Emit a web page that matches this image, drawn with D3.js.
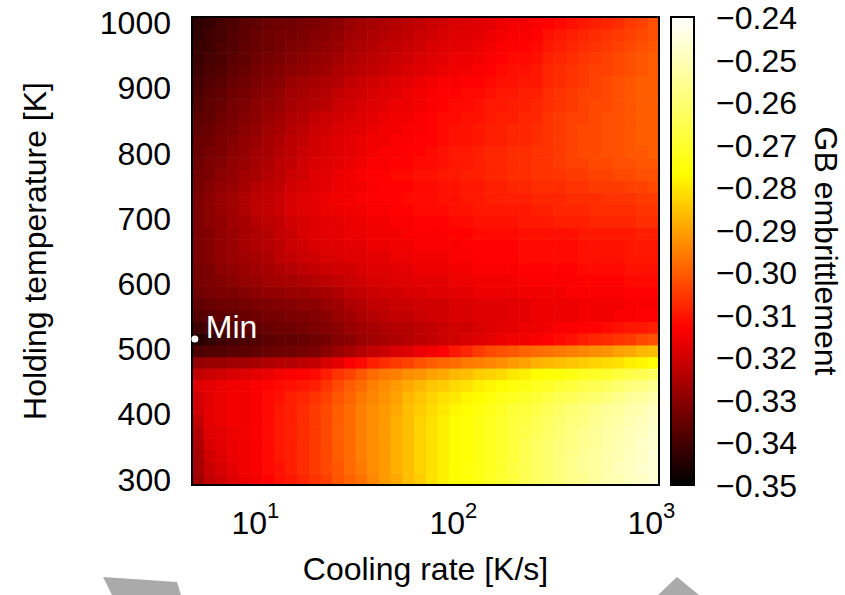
<!DOCTYPE html>
<html><head><meta charset="utf-8">
<script src="https://cdn.jsdelivr.net/npm/d3@7"></script>
<style>
html,body{margin:0;padding:0;background:#fff;}
svg{display:block;}
text{font-family:"Liberation Sans",Arial,Helvetica,sans-serif;}
</style></head><body>
<svg id="chart" width="845" height="595"></svg>
<script>
// ---------- data ----------
const coolingRates = [5.00, 5.73, 6.56, 7.52, 8.61, 9.87, 11.3, 12.9, 14.8, 17.0, 19.5, 22.3, 25.6, 29.3, 33.5, 38.4, 44.0, 50.4, 57.8, 66.2, 75.8, 86.8, 99.5, 114, 131, 150, 171, 196, 225, 258, 295, 338, 387, 444, 508, 583, 667, 765, 876, 1000];
const holdingTemps = [300, 318, 336, 354, 372, 390, 408, 426, 444, 462, 479, 497, 515, 533, 551, 569, 587, 605, 623, 641, 659, 677, 695, 713, 731, 749, 767, 785, 803, 821, 838, 856, 874, 892, 910, 928, 946, 964, 982, 1000];
// GB embrittlement in units of 1e-3, one row per holding temperature (300 K first), one column per cooling rate
const embrittlementMilli = [
[-327,-322,-320,-318,-316,-315,-313,-311,-310,-308,-306,-304,-301,-299,-297,-294,-291,-289,-286,-284,-281,-279,-277,-276,-274,-272,-270,-268,-265,-263,-261,-259,-257,-256,-254,-252,-251,-249,-248,-246],
[-326,-321,-319,-317,-315,-314,-312,-311,-309,-307,-305,-303,-301,-298,-296,-293,-291,-288,-286,-283,-281,-279,-277,-275,-274,-272,-270,-267,-265,-263,-261,-259,-257,-255,-254,-252,-250,-249,-247,-246],
[-326,-320,-318,-316,-315,-314,-312,-310,-309,-307,-305,-303,-300,-298,-295,-293,-291,-288,-286,-283,-281,-279,-277,-276,-274,-272,-270,-268,-265,-263,-261,-259,-257,-255,-254,-252,-251,-249,-248,-246],
[-325,-319,-317,-316,-315,-314,-312,-310,-309,-307,-305,-303,-300,-298,-295,-293,-291,-288,-286,-283,-281,-279,-277,-276,-274,-272,-270,-268,-265,-263,-261,-259,-258,-256,-255,-253,-251,-250,-248,-247],
[-324,-318,-317,-316,-315,-314,-312,-310,-309,-307,-305,-303,-300,-298,-295,-293,-291,-288,-286,-283,-281,-279,-277,-276,-274,-272,-270,-268,-266,-264,-262,-260,-258,-256,-255,-253,-252,-250,-249,-247],
[-322,-317,-316,-315,-315,-314,-312,-310,-309,-307,-305,-303,-300,-298,-295,-293,-291,-288,-286,-283,-281,-279,-277,-276,-274,-272,-270,-268,-267,-265,-263,-261,-259,-258,-256,-254,-253,-251,-250,-248],
[-320,-317,-316,-315,-315,-314,-312,-310,-309,-307,-305,-303,-300,-298,-295,-293,-291,-289,-286,-284,-282,-280,-278,-277,-275,-273,-271,-269,-268,-266,-264,-262,-260,-259,-257,-255,-254,-252,-251,-249],
[-320,-317,-316,-315,-315,-314,-312,-311,-309,-308,-306,-304,-301,-299,-296,-294,-292,-290,-287,-285,-283,-281,-280,-278,-277,-275,-273,-272,-270,-269,-267,-265,-264,-262,-261,-259,-257,-255,-254,-252],
[-318,-317,-316,-315,-315,-314,-313,-312,-311,-310,-309,-306,-303,-300,-298,-295,-293,-291,-289,-287,-285,-284,-282,-281,-279,-278,-277,-275,-274,-272,-271,-269,-268,-266,-265,-263,-261,-259,-258,-256],
[-322,-321,-320,-319,-318,-317,-316,-315,-314,-313,-312,-309,-306,-304,-301,-298,-296,-295,-293,-292,-290,-289,-287,-286,-284,-283,-282,-280,-279,-277,-276,-275,-274,-272,-271,-270,-268,-266,-265,-263],
[-329,-328,-328,-327,-327,-326,-325,-324,-324,-323,-322,-319,-317,-314,-312,-309,-307,-305,-304,-302,-300,-299,-298,-296,-295,-294,-293,-291,-290,-288,-287,-286,-285,-284,-283,-282,-281,-279,-278,-276],
[-339,-338,-338,-337,-337,-336,-335,-334,-334,-333,-332,-330,-328,-326,-324,-322,-321,-319,-318,-316,-315,-313,-310,-308,-305,-303,-302,-301,-299,-298,-297,-296,-295,-294,-293,-292,-290,-289,-287,-286],
[-345,-343,-341,-340,-339,-338,-337,-336,-336,-335,-334,-333,-331,-330,-328,-327,-326,-325,-324,-323,-322,-321,-320,-319,-318,-317,-316,-315,-315,-314,-313,-312,-311,-309,-308,-307,-306,-305,-303,-302],
[-341,-340,-339,-338,-337,-336,-335,-334,-334,-333,-332,-331,-330,-328,-327,-326,-325,-324,-324,-323,-322,-321,-320,-320,-319,-318,-317,-317,-316,-316,-315,-314,-314,-313,-313,-312,-311,-310,-310,-309],
[-338,-337,-336,-336,-335,-334,-333,-333,-332,-332,-331,-330,-328,-327,-325,-324,-323,-322,-322,-321,-320,-320,-319,-319,-318,-318,-318,-317,-317,-316,-316,-316,-316,-315,-315,-315,-314,-314,-313,-313],
[-336,-335,-334,-334,-333,-332,-332,-331,-331,-330,-330,-328,-327,-325,-324,-322,-322,-321,-321,-320,-320,-320,-319,-319,-318,-318,-318,-317,-317,-316,-316,-316,-316,-315,-315,-315,-315,-314,-314,-314],
[-334,-333,-332,-332,-331,-330,-329,-329,-328,-328,-327,-326,-325,-323,-322,-321,-320,-320,-319,-319,-318,-318,-317,-317,-316,-316,-316,-316,-315,-315,-315,-315,-314,-314,-314,-314,-314,-313,-313,-313],
[-333,-332,-331,-330,-329,-328,-327,-326,-326,-325,-324,-323,-322,-321,-320,-319,-319,-318,-318,-317,-317,-317,-316,-316,-315,-315,-315,-315,-314,-314,-314,-314,-314,-313,-313,-313,-313,-312,-312,-312],
[-333,-332,-330,-329,-328,-327,-326,-325,-324,-323,-322,-321,-320,-320,-319,-318,-318,-317,-317,-316,-316,-316,-315,-315,-314,-314,-314,-314,-313,-313,-313,-313,-313,-312,-312,-312,-312,-311,-311,-311],
[-332,-331,-329,-328,-327,-326,-325,-323,-322,-321,-320,-319,-319,-318,-318,-317,-317,-316,-316,-315,-315,-315,-314,-314,-313,-313,-313,-313,-312,-312,-312,-312,-312,-311,-311,-311,-311,-310,-310,-310],
[-332,-331,-329,-328,-326,-325,-324,-323,-321,-320,-319,-318,-318,-317,-317,-316,-316,-315,-315,-314,-314,-314,-314,-313,-313,-313,-313,-313,-312,-312,-312,-312,-312,-311,-311,-311,-311,-310,-310,-310],
[-332,-331,-329,-328,-326,-325,-324,-322,-321,-319,-318,-317,-317,-316,-316,-315,-315,-315,-314,-314,-314,-314,-313,-313,-312,-312,-312,-312,-311,-311,-311,-311,-311,-310,-310,-310,-310,-310,-309,-309],
[-332,-330,-329,-327,-326,-324,-323,-322,-320,-319,-318,-317,-317,-316,-316,-315,-315,-314,-314,-313,-313,-313,-312,-312,-311,-311,-311,-311,-310,-310,-310,-309,-309,-309,-308,-308,-308,-308,-307,-307],
[-332,-330,-328,-327,-325,-323,-322,-321,-319,-318,-317,-316,-316,-315,-315,-314,-314,-313,-313,-312,-312,-312,-311,-311,-310,-310,-310,-310,-310,-309,-309,-308,-308,-308,-307,-307,-307,-307,-306,-306],
[-332,-330,-328,-327,-325,-323,-322,-321,-319,-318,-317,-316,-315,-315,-314,-313,-313,-313,-312,-312,-312,-311,-311,-310,-310,-309,-309,-309,-309,-308,-308,-308,-307,-307,-307,-306,-306,-306,-305,-305],
[-333,-331,-329,-328,-326,-324,-323,-322,-320,-319,-318,-317,-316,-315,-315,-314,-313,-313,-313,-312,-312,-311,-311,-310,-310,-309,-309,-308,-308,-307,-307,-307,-306,-306,-305,-305,-305,-304,-304,-303],
[-333,-332,-330,-329,-327,-326,-324,-323,-321,-320,-318,-317,-316,-315,-314,-313,-313,-312,-312,-311,-311,-310,-310,-309,-309,-308,-308,-307,-307,-306,-306,-306,-305,-305,-304,-304,-303,-303,-302,-302],
[-334,-332,-331,-329,-328,-326,-325,-323,-322,-320,-319,-318,-317,-316,-315,-314,-314,-313,-313,-312,-312,-311,-310,-310,-309,-308,-308,-307,-307,-306,-306,-305,-304,-304,-303,-303,-302,-302,-301,-301],
[-335,-333,-332,-330,-329,-327,-326,-324,-323,-321,-320,-319,-318,-317,-316,-315,-314,-314,-313,-313,-312,-311,-310,-310,-309,-308,-308,-307,-307,-306,-306,-305,-304,-303,-303,-302,-302,-301,-301,-300],
[-335,-334,-332,-331,-329,-328,-326,-325,-323,-322,-320,-319,-318,-317,-316,-315,-315,-314,-314,-313,-313,-312,-311,-311,-310,-309,-309,-308,-308,-307,-306,-305,-304,-303,-303,-302,-302,-301,-300,-300],
[-336,-335,-333,-332,-330,-329,-327,-326,-324,-323,-321,-320,-319,-318,-317,-316,-315,-315,-314,-314,-313,-312,-311,-311,-310,-309,-309,-308,-308,-307,-306,-305,-304,-303,-303,-302,-302,-301,-300,-300],
[-337,-336,-334,-333,-331,-330,-328,-327,-325,-324,-322,-321,-320,-319,-318,-317,-316,-315,-315,-314,-313,-312,-312,-311,-311,-310,-309,-309,-308,-308,-306,-305,-304,-304,-303,-302,-302,-301,-300,-300],
[-338,-336,-335,-333,-332,-330,-329,-328,-326,-325,-324,-323,-321,-320,-319,-318,-317,-316,-316,-315,-314,-313,-312,-312,-311,-310,-310,-309,-309,-308,-307,-306,-305,-304,-303,-303,-302,-301,-300,-300],
[-339,-337,-336,-334,-333,-331,-330,-329,-327,-326,-325,-324,-322,-321,-320,-319,-318,-317,-316,-315,-314,-313,-313,-312,-312,-311,-310,-310,-309,-309,-307,-306,-305,-304,-304,-303,-302,-301,-300,-300],
[-340,-338,-337,-335,-334,-332,-331,-330,-328,-327,-326,-325,-324,-322,-321,-320,-319,-318,-317,-316,-315,-314,-314,-313,-313,-312,-311,-311,-310,-310,-308,-307,-306,-305,-304,-303,-302,-301,-300,-300],
[-341,-339,-338,-336,-335,-333,-332,-331,-330,-329,-328,-327,-325,-324,-323,-322,-321,-320,-319,-318,-317,-316,-315,-315,-314,-313,-312,-311,-311,-310,-308,-307,-306,-305,-304,-304,-303,-302,-301,-300],
[-342,-340,-339,-337,-336,-334,-333,-332,-331,-330,-329,-328,-327,-325,-324,-323,-322,-321,-320,-319,-318,-317,-316,-316,-315,-314,-313,-312,-312,-311,-309,-308,-307,-306,-305,-304,-303,-302,-301,-300],
[-342,-341,-339,-338,-336,-335,-334,-333,-332,-331,-330,-329,-328,-326,-325,-324,-323,-322,-321,-320,-319,-318,-317,-317,-316,-315,-314,-313,-313,-312,-310,-309,-308,-307,-306,-305,-304,-303,-302,-301],
[-343,-341,-340,-338,-337,-335,-334,-333,-333,-332,-331,-330,-329,-327,-326,-325,-324,-323,-322,-321,-320,-319,-318,-318,-317,-316,-315,-314,-314,-313,-311,-310,-309,-308,-307,-306,-305,-304,-303,-302],
[-343,-342,-340,-339,-337,-336,-335,-334,-334,-333,-332,-331,-330,-328,-327,-326,-325,-324,-323,-322,-321,-320,-319,-319,-318,-317,-316,-315,-315,-314,-313,-312,-311,-310,-309,-308,-307,-305,-304,-302]
];
const yTickValues = [300, 400, 500, 600, 700, 800, 900, 1000];
const xTickValues = [10, 100, 1000];
const xTickExponents = ["1", "2", "3"];
const colorbarTicks = [-0.24, -0.25, -0.26, -0.27, -0.28, -0.29, -0.30, -0.31, -0.32, -0.33, -0.34, -0.35];
const colorRange = [-0.35, -0.24];
const minRate = 5, minTemp = 515, minLabel = "Min";
const xTitle = "Cooling rate [K/s]";
const yTitle = "Holding temperature [K]";
const cTitle = "GB embrittlement";

// ---------- layout ----------
const L = 192, R = 659, TOP = 17, B = 485;
const CB_L = 671, CB_R = 694;
const FS = 32;

const svg = d3.select("#chart");

// cell edges (geometric midpoints in x, arithmetic midpoints in y)
const nX = coolingRates.length, nY = holdingTemps.length;
const xEdges = [coolingRates[0] / Math.sqrt(coolingRates[1] / coolingRates[0])];
for (let j = 0; j < nX - 1; j++) xEdges.push(Math.sqrt(coolingRates[j] * coolingRates[j + 1]));
xEdges.push(coolingRates[nX - 1] * Math.sqrt(coolingRates[nX - 1] / coolingRates[nX - 2]));
const yEdges = [holdingTemps[0] - (holdingTemps[1] - holdingTemps[0]) / 2];
for (let i = 0; i < nY - 1; i++) yEdges.push((holdingTemps[i] + holdingTemps[i + 1]) / 2);
yEdges.push(holdingTemps[nY - 1] + (holdingTemps[nY - 1] - holdingTemps[nY - 2]) / 2);

const x = d3.scaleLog().domain([xEdges[0], xEdges[nX]]).range([L, R]);
const y = d3.scaleLinear().domain([yEdges[0], yEdges[nY]]).range([B, TOP]);
const cPos = d3.scaleLinear().domain(colorRange).range([B, TOP]);
const tScale = d3.scaleLinear().domain(colorRange).range([0, 1]).clamp(true);
const clamp01 = v => Math.max(0, Math.min(1, v));
function hot(v) {
  const t = tScale(v);
  return d3.rgb(255 * clamp01(3 * t), 255 * clamp01(3 * t - 1), 255 * clamp01(3 * t - 2)).toString();
}

// ---------- heatmap ----------
const cells = [];
embrittlementMilli.forEach((row, i) => row.forEach((m, j) => cells.push({i, j, v: m / 1000})));
svg.append("g").selectAll("rect").data(cells).join("rect")
  .attr("x", d => x(xEdges[d.j]))
  .attr("y", d => y(yEdges[d.i + 1]))
  .attr("width", d => x(xEdges[d.j + 1]) - x(xEdges[d.j]) + (d.j < nX - 1 ? 0.6 : 0))
  .attr("height", d => y(yEdges[d.i]) - y(yEdges[d.i + 1]) + (d.i > 0 ? 0.6 : 0))
  .attr("fill", d => hot(d.v));

svg.append("rect").attr("x", L).attr("y", TOP).attr("width", R - L).attr("height", B - TOP)
  .attr("fill", "none").attr("stroke", "#000").attr("stroke-width", 2);

// ---------- min marker ----------
svg.append("circle").attr("cx", x(minRate) - 3).attr("cy", y(minTemp)).attr("r", 3.5).attr("fill", "#fff");
svg.append("text").attr("x", x(minRate) + 8).attr("y", y(minTemp) - 1)
  .attr("font-size", FS).attr("fill", "#fff").text(minLabel);

// ---------- axes ----------
const yAxis = d3.axisLeft(y).tickValues(yTickValues).tickSize(0).tickPadding(0).tickFormat(d3.format("d"));
const gy = svg.append("g").attr("transform", `translate(${L - 21},0)`).call(yAxis);
gy.select(".domain").remove();
gy.selectAll("text").attr("font-size", FS).attr("fill", "#000").attr("font-family", null).attr("dy", "0.34em");

const gx = svg.append("g");
xTickValues.forEach((v, k) => {
  const t = gx.append("text").attr("x", x(v) - 2).attr("y", 534).attr("text-anchor", "middle")
    .attr("font-size", FS).attr("fill", "#000");
  t.append("tspan").text("10");
  t.append("tspan").attr("dy", -16).attr("font-size", 22).text(xTickExponents[k]);
});

svg.append("text").attr("x", (L + R) / 2).attr("y", 580).attr("text-anchor", "middle")
  .attr("font-size", FS).attr("fill", "#000").text(xTitle);
svg.append("text").attr("transform", `translate(46,${(TOP + B) / 2}) rotate(-90)`)
  .attr("text-anchor", "middle").attr("font-size", FS).attr("fill", "#000").text(yTitle);

// ---------- colorbar ----------
const defs = svg.append("defs");
const grad = defs.append("linearGradient").attr("id", "hotgrad")
  .attr("x1", 0).attr("y1", 1).attr("x2", 0).attr("y2", 0);
d3.range(0, 101).forEach(p => {
  const v = colorRange[0] + (colorRange[1] - colorRange[0]) * p / 100;
  grad.append("stop").attr("offset", p + "%").attr("stop-color", hot(v));
});
svg.append("rect").attr("x", CB_L).attr("y", TOP).attr("width", CB_R - CB_L).attr("height", B - TOP)
  .attr("fill", "url(#hotgrad)").attr("stroke", "#000").attr("stroke-width", 2);

const cAxis = d3.axisRight(cPos).tickValues(colorbarTicks).tickSize(0).tickPadding(0)
  .tickFormat(d => "\u2212" + Math.abs(d).toFixed(2));
const gc = svg.append("g").attr("transform", `translate(${CB_R + 22},0)`).call(cAxis);
gc.select(".domain").remove();
gc.selectAll("text").attr("font-size", FS).attr("fill", "#000").attr("font-family", null).attr("dy", "0.36em");

svg.append("text").attr("transform", `translate(815,${(TOP + B) / 2}) rotate(90)`)
  .attr("text-anchor", "middle").attr("font-size", FS).attr("fill", "#000").text(cTitle);

// ---------- decorative grey shapes at the bottom ----------
svg.append("polygon").attr("points", "103,577 177,582 181,595 112,595").attr("fill", "#aaaaaa");
svg.append("polygon").attr("points", "677,577 658,595 699,595").attr("fill", "#aaaaaa");
</script>
</body></html>
